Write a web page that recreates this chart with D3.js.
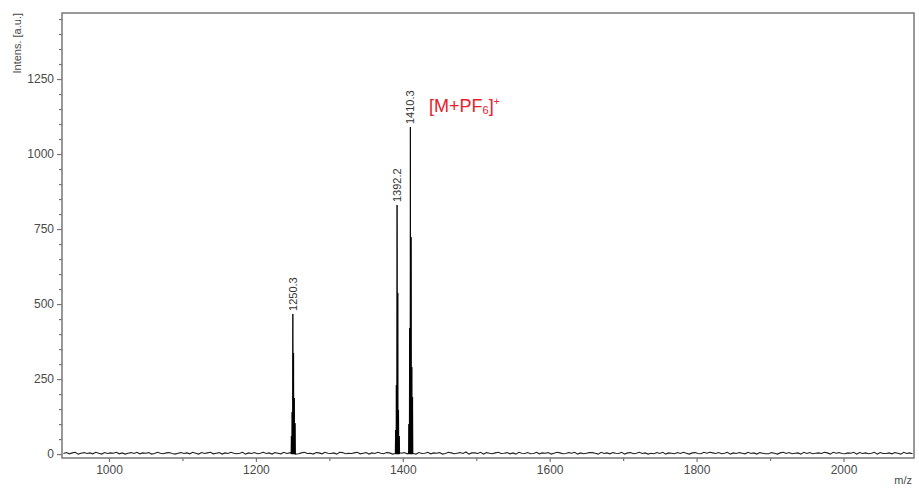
<!DOCTYPE html>
<html>
<head>
<meta charset="utf-8">
<script src="https://cdn.jsdelivr.net/npm/d3@7"></script>
<style>
  html, body { margin: 0; padding: 0; background: #fff; }
  svg { display: block; }
  text { font-family: Arial, "Liberation Sans", sans-serif; }
</style>
</head>
<body>
<svg id="chart" width="919" height="488"></svg>
<script>
// Mass spectrum (MALDI-TOF), intensity vs m/z

const xDomain = [936, 2096];
const yDomain = [-13, 1470];
const xMajorTicks = [1000, 1200, 1400, 1600, 1800, 2000];
const xMinorTicks = [1100, 1300, 1500, 1700, 1900];
const yMajorTicks = [0, 250, 500, 750, 1000, 1250];
const yMinorTicks = [50,100,150,200,300,350,400,450,550,600,650,700,800,850,900,950,1050,1100,1150,1200,1300,1350,1400,1450];

// isotope clusters: m/z and intensity
const cluster1250Mz = [1248.3, 1249.3, 1250.3, 1251.3, 1252.3, 1253.3];
const cluster1250I  = [60, 140, 467, 337, 187, 103];
const cluster1392Mz = [1390.2, 1391.2, 1392.2, 1393.2, 1394.2, 1395.2];
const cluster1392I  = [80, 230, 830, 537, 147, 60];
const cluster1410Mz = [1408.3, 1409.3, 1410.3, 1411.3, 1412.3, 1413.3];
const cluster1410I  = [100, 420, 1090, 723, 290, 190];

// labelled peaks
const peakLabels = ["1250.3", "1392.2", "1410.3"];
const peakMz = [1250.3, 1392.2, 1410.3];
const peakI = [467, 830, 1090];

// baseline noise, sampled every 4 m/z from 938
const noiseStart = 938, noiseStep = 4;
const noise = [
  2,5,1,4,6,0,3,5,2,4,1,6,3,0,5,2,4,3,6,1,
  4,0,3,5,2,6,1,4,3,5,0,2,6,3,1,4,5,2,0,3,
  5,2,4,1,6,3,0,5,2,4,6,1,3,5,0,4,2,6,3,1,
  3,6,0,4,2,5,1,3,6,2,4,0,5,3,1,6,2,4,5,0,
  1,4,6,2,3,0,5,4,1,6,3,2,4,0,6,5,1,3,2,4,
  6,1,3,5,0,4,2,6,3,1,5,4,0,2,6,3,5,1,4,2,
  0,5,2,3,6,1,4,3,5,0,2,6,4,1,3,5,2,7,0,4,
  4,2,6,0,5,3,1,4,6,2,3,5,1,4,0,6,3,2,5,1,
  2,6,1,4,3,5,0,3,6,4,1,2,5,3,6,0,4,1,3,5,
  5,3,0,6,2,4,1,5,3,2,6,0,4,5,1,3,6,2,4,0,
  3,1,5,2,6,0,4,3,1,5,2,6,3,0,4,5,2,1,6,3,
  6,4,2,5,1,3,6,0,4,2,5,3,1,6,2,4,0,5,3,1,
  1,5,3,0,4,6,2,5,1,3,4,0,6,2,5,1,3,4,2,6,
  4,0,6,3,5,2,1,4,3,6,0,5,2,4,1,3,6,0,5,2,
  2,4,1,5,3,0,6,2,4,1
];

const svg = d3.select("#chart");
const plotLeft = 62, plotRight = 914, plotTop = 13, plotBottom = 458;

const x = d3.scaleLinear().domain(xDomain).range([plotLeft, plotRight]);
const y = d3.scaleLinear().domain(yDomain).range([plotBottom, plotTop]);

const textColor = "#4a4a4a";
const axisColor = "#777";
const fmt = d3.format("d");

// baseline noise
const noisePts = noise.map((v, i) => [noiseStart + i * noiseStep, v]);
svg.append("path")
  .attr("d", d3.line().x(d => x(d[0])).y(d => y(d[1]))(noisePts))
  .attr("fill", "none")
  .attr("stroke", "#222")
  .attr("stroke-width", 1.1);

// isotope clusters as narrow stick profiles
function clusterProfile(mzs, vals) {
  const pts = [];
  mzs.forEach((m, i) => {
    pts.push([m - 0.45, 0]);
    pts.push([m, vals[i]]);
    pts.push([m + 0.45, 0]);
  });
  return pts;
}
[[cluster1250Mz, cluster1250I], [cluster1392Mz, cluster1392I], [cluster1410Mz, cluster1410I]]
  .forEach(([m, v]) => {
    svg.append("path")
      .attr("d", d3.line().x(d => x(d[0])).y(d => y(d[1]))(clusterProfile(m, v)))
      .attr("fill", "#000")
      .attr("stroke", "#000")
      .attr("stroke-width", 0.9)
      .attr("stroke-linejoin", "miter");
  });

// frame
svg.append("rect")
  .attr("x", plotLeft).attr("y", plotTop)
  .attr("width", plotRight - plotLeft).attr("height", plotBottom - plotTop)
  .attr("fill", "none")
  .attr("stroke", axisColor)
  .attr("stroke-width", 1.5);

// y axis
const yAxis = d3.axisLeft(y).tickValues(yMajorTicks).tickFormat(fmt).tickSize(5).tickPadding(3);
const gy = svg.append("g").attr("transform", `translate(${plotLeft},0)`).call(yAxis);
gy.select(".domain").remove();
gy.selectAll(".tick line").attr("stroke", axisColor).attr("stroke-width", 1.2);
gy.selectAll(".tick text").attr("fill", textColor).style("font-size", "12px")
  .style("font-family", "Arial, 'Liberation Sans', sans-serif");
const gyMinor = svg.append("g").attr("transform", `translate(${plotLeft},0)`)
  .call(d3.axisLeft(y).tickValues(yMinorTicks).tickSize(3).tickFormat(""));
gyMinor.select(".domain").remove();
gyMinor.selectAll(".tick line").attr("stroke", axisColor).attr("stroke-width", 1.2);

// x axis
const xAxis = d3.axisBottom(x).tickValues(xMajorTicks).tickFormat(fmt).tickSize(4).tickPadding(3);
const gx = svg.append("g").attr("transform", `translate(0,${plotBottom})`).call(xAxis);
gx.select(".domain").remove();
gx.selectAll(".tick line").attr("stroke", axisColor).attr("stroke-width", 1.2);
gx.selectAll(".tick text").attr("fill", textColor).style("font-size", "12px")
  .style("font-family", "Arial, 'Liberation Sans', sans-serif");
const gxMinor = svg.append("g").attr("transform", `translate(0,${plotBottom})`)
  .call(d3.axisBottom(x).tickValues(xMinorTicks).tickSize(3).tickFormat(""));
gxMinor.select(".domain").remove();
gxMinor.selectAll(".tick line").attr("stroke", axisColor).attr("stroke-width", 1.2);

// axis titles
svg.append("text")
  .attr("transform", `translate(21,${plotTop}) rotate(-90)`)
  .attr("text-anchor", "end")
  .attr("fill", textColor)
  .style("font-size", "11px")
  .text("Intens. [a.u.]");
svg.append("text")
  .attr("x", 912).attr("y", 484)
  .attr("text-anchor", "end")
  .attr("fill", textColor)
  .style("font-size", "11px")
  .text("m/z");

// peak labels
peakLabels.forEach((lab, i) => {
  svg.append("text")
    .attr("transform", `translate(${x(peakMz[i]) + 4},${y(peakI[i]) - 3}) rotate(-90)`)
    .attr("text-anchor", "start")
    .attr("fill", "#333")
    .style("font-size", "11px")
    .text(lab);
});

// ion annotation
const ion = svg.append("text")
  .attr("x", 429).attr("y", 112)
  .attr("fill", "#e8202a")
  .style("font-size", "18px");
ion.append("tspan").text("[M+PF");
ion.append("tspan").attr("dy", 2).style("font-size", "11px").text("6");
ion.append("tspan").attr("dy", -2).text("]");
ion.append("tspan").attr("dy", -7).style("font-size", "10px").text("+");
</script>
</body>
</html>
